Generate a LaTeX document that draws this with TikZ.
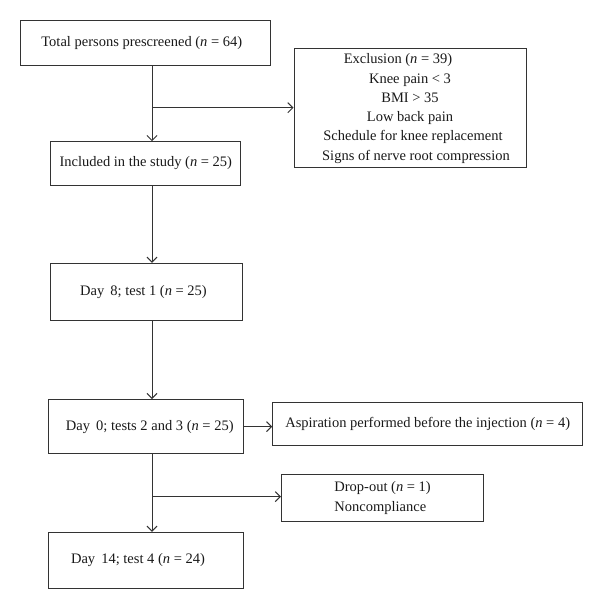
\documentclass[tikz,border=0pt]{standalone}
\usepackage{fontspec}
\setmainfont{Liberation Serif}
\usetikzlibrary{arrows.meta}
\begin{document}
\begin{tikzpicture}[x=1pt,y=-1pt,
  every node/.style={font=\fontsize{14.5}{19.3}\selectfont, text=black!90},
  box/.style={draw=black!80, line width=1pt, minimum width=#1, inner sep=0pt},
  conn/.style={draw=black!80, line width=1pt},
  arr/.style={conn, -{Straight Barb[length=5pt,width=10pt]}}]
\useasboundingbox (0,0) rectangle (600,609);
\node[box=250.3pt, minimum height=44.6pt] (b1) at (145.8,43) {Total persons prescreened (\textit{n} = 64)\hspace*{8pt}};
\node[box=232pt, minimum height=119pt, align=center] (excl) at (410,108.5)
  {Exclusion (\textit{n} = 39)\hspace*{24pt}\\Knee pain \textless{} 3\hspace*{20pt}\\BMI \textgreater{} 35\hspace*{18pt}\\Low back pain\hspace*{14pt}\\\hspace*{6pt}Schedule for knee replacement\\\hspace*{12pt}Signs of nerve root compression};
\node[box=190.3pt, minimum height=43.6pt] (incl) at (145.8,163.5) {Included in the study (\textit{n} = 25)};
\node[box=191.6pt, minimum height=57pt] (d8) at (146.5,291.8) {Day\, 8; test 1 (\textit{n} = 25)\hspace*{6pt}};
\node[box=194.5pt, minimum height=54.2pt] (d0) at (145.8,426.6) {\hspace*{8pt}Day\, 0; tests 2 and 3 (\textit{n} = 25)};
\node[box=310pt, minimum height=43pt] (asp) at (427.7,424.2) {Aspiration performed before the injection (\textit{n} = 4)};
\node[box=202.3pt, minimum height=47.3pt, align=left] (drop) at (382.6,498) {Drop-out (\textit{n} = 1)\\Noncompliance};
\node[box=195pt, minimum height=56pt] (d14) at (146,560.3) {Day\, 14; test 4 (\textit{n} = 24)\hspace*{16pt}};
\coordinate (t1) at (152,107.7);
\coordinate (t2) at (152,496.7);
\draw[arr] (b1.south -| t1) -- (incl.north -| t1);
\draw[arr] (t1) -- (t1 -| excl.west);
\draw[arr] (incl.south -| t1) -- (d8.north -| t1);
\draw[arr] (d8.south -| t1) -- (d0.north -| t1);
\draw[arr] (d0.east) -- (d0.east -| asp.west);
\draw[arr] (d0.south -| t2) -- (d14.north -| t2);
\draw[arr] (t2) -- (t2 -| drop.west);
\end{tikzpicture}
\end{document}
